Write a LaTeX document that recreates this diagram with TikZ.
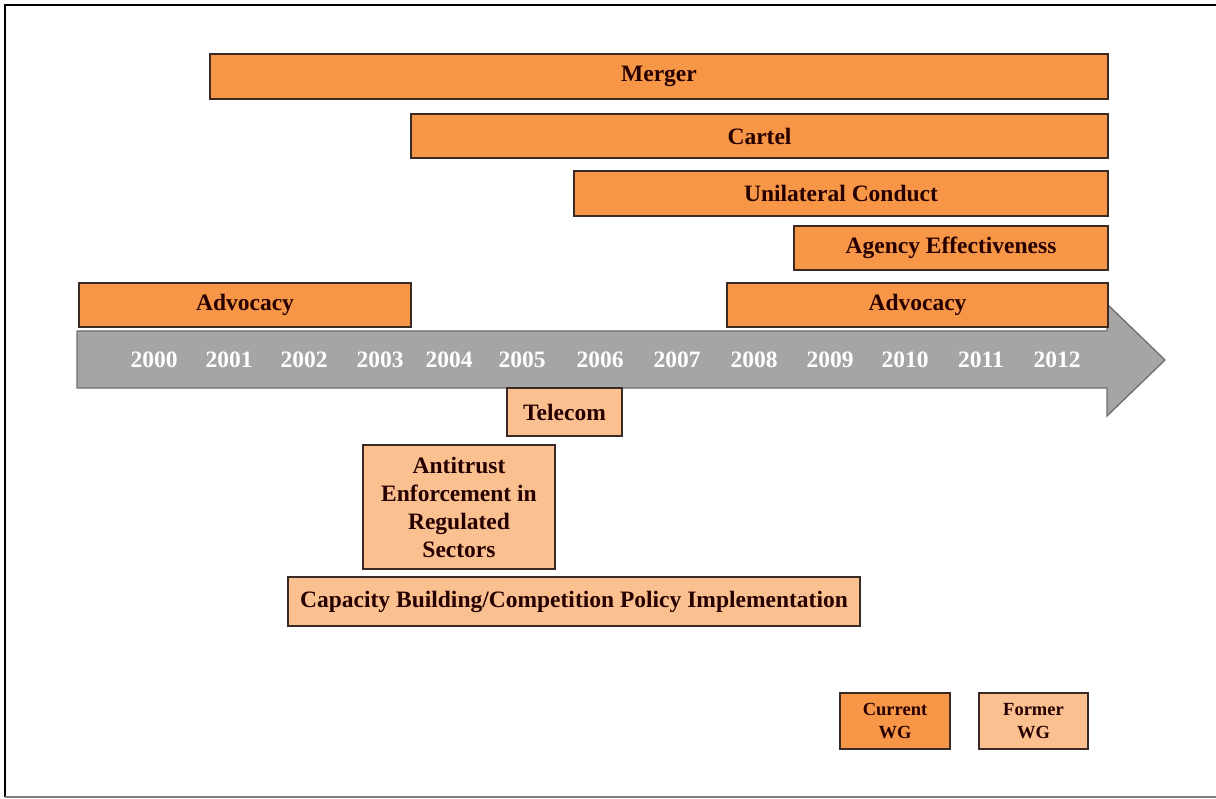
\documentclass[tikz,border=0pt]{standalone}
\usepackage{fontspec}
\setmainfont{Liberation Serif}
\definecolor{wgcur}{HTML}{F79646}
\definecolor{wgold}{HTML}{FAC090}
\definecolor{wgline}{HTML}{3A2A24}
\definecolor{axisgray}{HTML}{A5A5A5}
\definecolor{axisline}{HTML}{6E6E6E}
\begin{document}
\begin{tikzpicture}[x=1pt, y=-1pt, line join=miter,
    wgbox/.style={draw=wgline, line width=1.3pt, inner sep=0pt, text=black!85!red,
      font=\fontsize{23.5}{28}\selectfont\bfseries, align=center},
    cur/.style={wgbox, fill=wgcur},
    old/.style={wgbox, fill=wgold},
    legend/.style={font=\fontsize{18.5}{23}\selectfont\bfseries},
    year/.style={text=white, font=\fontsize{23.5}{27}\selectfont\bfseries}]
    \useasboundingbox (0,0) rectangle (1216,799);
    % frame
    \draw[line width=2pt] (1216,5) -- (5,5) -- (5,797);
    \draw[line width=2pt, gray] (5,797) -- (1216,797);
    % time axis
    \draw[fill=axisgray, draw=axisline, line width=1.3pt] (77,331) -- (1107,331) -- (1107,304) -- (1165,360)
        -- (1107,416) -- (1107,388) -- (77,388) -- cycle;
    \foreach \yr/\xx in {2000/154, 2001/229, 2002/304, 2003/380, 2004/449, 2005/522, 2006/600,
                         2007/677, 2008/754, 2009/830, 2010/905, 2011/981, 2012/1057}
        \node[year] (y\yr) at (\xx,360) {\yr};
    % current working groups
    \node[cur, minimum width=898pt, minimum height=45pt] (merger) at (659,76.5) {Merger};
    \node[cur, minimum width=697pt, minimum height=44pt] (cartel) at (759.5,136) {Cartel};
    \node[cur, minimum width=534pt, minimum height=45pt] (unilateral) at (841,193.5) {Unilateral Conduct};
    \node[cur, minimum width=314pt, minimum height=44pt] (agency) at (951,248) {Agency Effectiveness};
    \node[cur, minimum width=332pt, minimum height=44pt] (advocacyA) at (245,305) {Advocacy};
    \node[cur, minimum width=381pt, minimum height=44pt] (advocacyB) at (917.5,305) {Advocacy};
    % former working groups
    \node[old, minimum width=115pt, minimum height=48pt] (telecom) at (564.5,412) {Telecom};
    \node[old, minimum width=192pt, minimum height=124pt] (antitrust) at (459,507)
        {Antitrust\\Enforcement in\\Regulated\\Sectors};
    \node[old, minimum width=572pt, minimum height=49pt] (capacity) at (574,601.5)
        {Capacity Building/Competition Policy Implementation};
    % legend
    \node[cur, legend, minimum width=110pt, minimum height=56pt] (current) at (895,721) {Current\\WG};
    \node[old, legend, minimum width=109pt, minimum height=56pt] (former) at (1033.5,721) {Former\\WG};
\end{tikzpicture}
\end{document}
